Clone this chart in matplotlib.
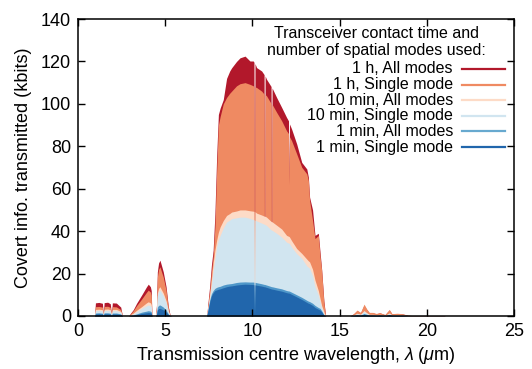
import matplotlib
matplotlib.use("Agg")
import matplotlib.pyplot as plt
from matplotlib.lines import Line2D

plt.rcParams['font.family'] = ['Liberation Sans', 'DejaVu Sans']
plt.rcParams['mathtext.fontset'] = 'custom'
plt.rcParams['mathtext.rm'] = 'Liberation Sans'
plt.rcParams['mathtext.it'] = 'Liberation Sans:italic'

# ---------------- data ----------------
wavelength = [
    0.95, 1.00, 1.20, 1.40, 1.45, 1.50, 1.70, 1.85, 1.92, 1.97, 2.20, 2.45, 2.55,
    2.92, 3.00, 3.17, 3.36, 3.65, 3.93, 4.03, 4.15, 4.20, 4.24,
    4.45, 4.50, 4.55, 4.62, 4.70, 4.78, 4.89, 5.05, 5.18, 5.28, 5.35,
    7.38, 7.45, 7.55, 7.65, 7.75, 7.85, 7.95, 8.05, 8.15, 8.33, 8.52, 8.70, 8.81,
    9.09, 9.29, 9.58, 9.86, 10.05, 10.09, 10.12, 10.15, 10.24, 10.53, 10.67, 10.70,
    10.73, 10.81, 11.07, 11.10, 11.13, 11.39, 11.68, 11.96, 12.07, 12.10, 12.13,
    12.25, 12.54, 12.83, 13.12, 13.21,
    13.28, 13.45, 13.59, 13.78, 13.88, 13.97, 14.10, 14.20,
    15.60, 15.80, 16.00, 16.20, 16.40, 16.55, 16.70, 16.90, 17.10, 17.30, 17.60,
    17.85, 18.00, 18.30, 18.60, 18.90, 19.20, 21.00, 21.05,
]

h1_all = [
    0, 6.2, 6.4, 6.0, 1.0, 6.3, 6.5, 5.8, 1.0, 6.2, 6.1, 4.2, 0,
    0, 1.2, 3.0, 6.0, 9.9, 13.8, 15.0, 13.8, 12.0, 0,
    0, 5.0, 20.8, 25.0, 26.3, 24.0, 20.8, 13.8, 4.4, 0.5, 0,
    0, 6, 14, 24, 31, 48, 75, 95, 98, 102, 112, 115.5, 117,
    120, 121.7, 122.5, 120.2, 120.2, 119.6, 0, 119, 117.1, 115.5, 113.8, 0,
    113.2, 111.6, 108.2, 0, 107.5, 103, 98.3, 93.6, 92, 62, 90.5,
    88.1, 81.1, 72.4, 69.3, 65.4,
    56, 50, 38, 39, 30, 22, 7, 0,
    0, 1.0, 2.5, 1.5, 5.0, 3.0, 1.5, 1.5, 1.0, 1.5, 0.6,
    2.8, 1.0, 1.1, 1.0, 0.3, 0.2, 0.2, 0,
]

h1_single = [
    0, 4.4, 4.5, 4.2, 0.8, 4.5, 4.6, 4.1, 0.8, 4.4, 4.3, 3.0, 0,
    0, 1.0, 2.5, 4.9, 8.0, 11.2, 12.2, 11.3, 9.8, 0,
    0, 4.4, 18.3, 22.0, 23.2, 21.1, 18.3, 12.1, 3.9, 0.4, 0,
    0, 5, 12, 21, 28, 42, 68, 90, 94, 100, 103, 105, 106,
    108.5, 109.5, 110, 109.2, 108.5, 108.3, 0, 108, 107.7, 106, 104.6, 0,
    104.4, 103.8, 100.2, 0, 99.8, 96, 92, 87.3, 86, 62, 84.5,
    82.6, 76.4, 70.1, 67, 63.8,
    54.5, 45, 36.5, 38, 28, 21.6, 6, 0,
    0, 1.1, 2.8, 1.7, 5.6, 3.4, 1.7, 1.7, 1.2, 1.6, 0.7,
    3.1, 1.1, 1.3, 1.1, 0.4, 0.2, 0.2, 0,
]

m10_all = [
    0, 3.1, 3.2, 3.0, 0.6, 3.2, 3.3, 3.0, 0.6, 3.1, 3.1, 2.2, 0,
    0, 0.5, 1.4, 2.7, 4.4, 6.2, 6.7, 6.2, 5.4, 0,
    0, 2.6, 10.8, 13.0, 13.8, 12.5, 10.8, 7.2, 2.3, 0.3, 0,
    0, 4, 10, 17, 25, 31, 35.7, 39.5, 42, 45, 47.4, 48.3, 49,
    49.5, 50, 50, 49.6, 49.4, 49.3, 0, 49.2, 48.5, 47.6, 47.1, 47,
    47, 46.6, 44.6, 44.5, 44.4, 42.8, 41, 38, 37.6, 37.5, 37.2,
    35.5, 31.8, 29.5, 26.8, 26,
    25.5, 22, 16.9, 12, 8.3, 5, 2, 0,
    0, 0.5, 1.3, 0.8, 2.6, 1.6, 0.8, 0.8, 0.6, 0.8, 0.3,
    1.5, 0.5, 0.6, 0.5, 0.2, 0.1, 0.1, 0,
]

m10_single = [
    0, 2.5, 2.6, 2.4, 0.5, 2.6, 2.6, 2.4, 0.5, 2.5, 2.5, 1.8, 0,
    0, 0.4, 1.1, 2.1, 3.6, 4.8, 5.2, 4.8, 4.2, 0,
    0, 2.3, 9.6, 11.6, 12.2, 11.1, 9.6, 6.4, 2.0, 0.2, 0,
    0, 3.5, 8.5, 14.5, 21.5, 27, 32.5, 36, 38, 41.5, 44.3, 45.2, 45.9,
    46.3, 46.6, 46.6, 46, 45.4, 45.3, 0, 45.2, 44.8, 43.8, 43.3, 43.2,
    43.1, 42.7, 40.6, 40.5, 40.4, 39, 37.2, 34.8, 34.4, 34.3, 34.1,
    32.5, 29.4, 27.2, 23.6, 23,
    22.5, 19, 13.8, 10, 6.7, 4, 1, 0,
    0, 0.4, 1.1, 0.7, 2.2, 1.3, 0.7, 0.7, 0.5, 0.6, 0.3,
    1.2, 0.4, 0.5, 0.4, 0.15, 0.1, 0.1, 0,
]

m1_all = [
    0, 1.4, 1.5, 1.3, 0.3, 1.5, 1.5, 1.3, 0.3, 1.4, 1.4, 1.0, 0,
    0, 0.2, 0.5, 1.0, 1.8, 2.3, 2.5, 2.3, 2.0, 0,
    0, 1.0, 4.2, 5.0, 5.2, 4.8, 4.2, 2.8, 0.9, 0.1, 0,
    0, 3, 7.5, 10.5, 12, 13, 13.5, 13.8, 14, 14.6, 15, 15.2, 15.3,
    15.8, 16, 16.1, 16, 16, 15.9, 0, 15.9, 15.7, 15.2, 14.9, 14.9,
    14.8, 14.6, 13.9, 13.8, 13.8, 13.3, 12.8, 12, 11.8, 11.8, 11.7,
    11.2, 10, 8.8, 7.4, 7,
    6.8, 6, 5, 4, 3.6, 2.5, 0.5, 0,
    0, 0.3, 0.7, 0.4, 1.2, 0.8, 0.4, 0.4, 0.3, 0.4, 0.2,
    0.7, 0.3, 0.3, 0.3, 0.1, 0.05, 0.05, 0,
]

m1_single = [
    0, 0.9, 1.0, 0.9, 0.2, 1.0, 1.0, 0.9, 0.2, 0.9, 0.9, 0.7, 0,
    0, 0.1, 0.3, 0.6, 1.2, 1.5, 1.6, 1.5, 1.3, 0,
    0, 0.7, 2.9, 3.5, 3.6, 3.3, 2.9, 1.9, 0.6, 0.1, 0,
    0, 2.5, 6.5, 9.5, 11, 12, 12.3, 12.6, 12.8, 13.3, 13.8, 14.1, 14.2,
    14.6, 14.8, 15, 14.9, 14.8, 14.7, 0, 14.7, 14.5, 14.1, 13.8, 13.8,
    13.7, 13.5, 12.8, 12.7, 12.7, 12.2, 11.7, 11, 10.8, 10.8, 10.7,
    10.2, 9, 7.8, 6.4, 6,
    5.8, 5, 4, 3.2, 2.8, 2, 0.4, 0,
    0, 0.2, 0.4, 0.3, 0.8, 0.5, 0.3, 0.3, 0.2, 0.3, 0.1,
    0.5, 0.2, 0.2, 0.2, 0.05, 0.03, 0.03, 0,
]

series_labels = ["1 h, All modes", "1 h, Single mode", "10 min, All modes",
                 "10 min, Single mode", "1 min, All modes", "1 min, Single mode"]
series_values = [h1_all, h1_single, m10_all, m10_single, m1_all, m1_single]
series_colors = ["#b2182b", "#ef8a62", "#fddbc7", "#d1e5f0", "#4f97c9", "#2166ac"]
legend_colors = ["#b2182b", "#ef8a62", "#fddbc7", "#d1e5f0", "#67a9cf", "#2166ac"]

x_ticks = [0, 5, 10, 15, 20, 25]
y_ticks = [0, 20, 40, 60, 80, 100, 120, 140]

# ---------------- figure ----------------
fig = plt.figure(figsize=(5.32, 3.69), dpi=100)
ax = fig.add_axes([78 / 532, 1 - 316 / 369, 436 / 532, 297 / 369])

for vals, col in zip(series_values, series_colors):
    ax.fill_between(wavelength, 0, vals, color=col, linewidth=0)

ax.set_xlim(0, 25)
ax.set_ylim(0, 140)
ax.set_xticks(x_ticks)
ax.set_yticks(y_ticks)
ax.tick_params(direction='in', top=True, right=True, length=5, width=1.0,
               labelsize=13, pad=5)
for sp in ax.spines.values():
    sp.set_linewidth(1.1)

ax.set_xlabel(r'Transmission centre wavelength, $\lambda$ ($\mu$m)', fontsize=13, labelpad=4)
ax.set_ylabel('Covert info. transmitted (kbits)', fontsize=13, labelpad=6)

# gnuplot-style key
ax.text(0.685, 0.952, 'Transceiver contact time and', transform=ax.transAxes,
        ha='center', va='center', fontsize=11.5)
ax.text(0.685, 0.894, 'number of spatial modes used:', transform=ax.transAxes,
        ha='center', va='center', fontsize=11.5)
row_y = [0.832, 0.779, 0.727, 0.674, 0.622, 0.569]
for lab, col, yy in zip(series_labels, legend_colors, row_y):
    ax.text(0.860, yy, lab, transform=ax.transAxes, ha='right', va='center', fontsize=11.5)
    ax.add_line(Line2D([0.880, 0.979], [yy, yy], transform=ax.transAxes,
                       color=col, linewidth=1.6))

fig.savefig('out.png', dpi=100)
